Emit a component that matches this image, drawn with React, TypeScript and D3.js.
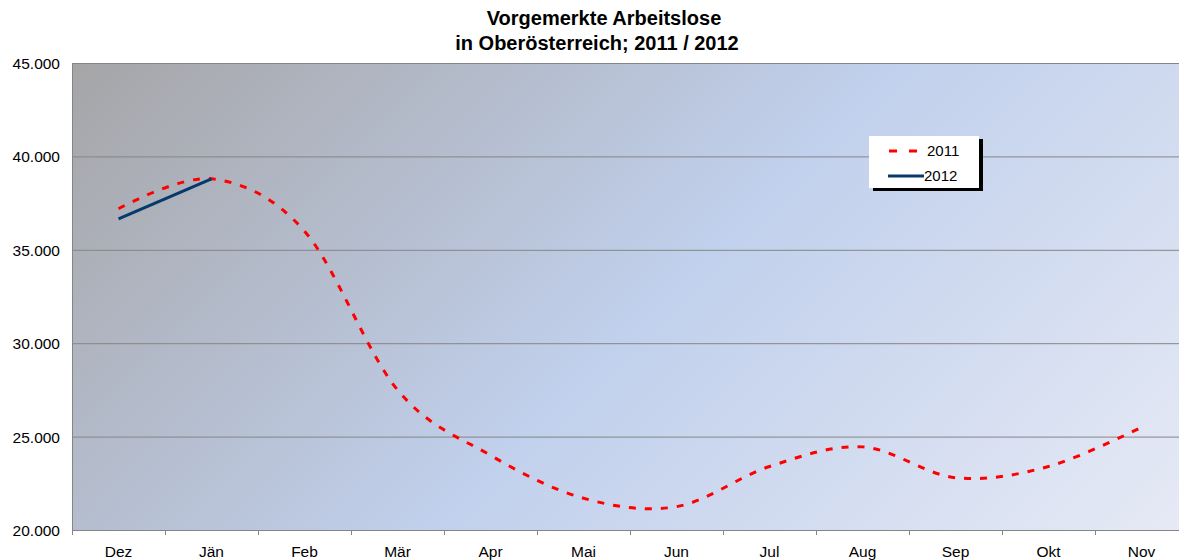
import { useEffect, useRef } from "react";
import * as d3 from "d3";

const months = ["Dez", "Jän", "Feb", "Mär", "Apr", "Mai", "Jun", "Jul", "Aug", "Sep", "Okt", "Nov"];
const values2011 = [37200, 38800, 36000, 27500, 24000, 21700, 21250, 23400, 24450, 22800, 23400, 25500];
const values2012 = [36650, 38800];
const yTicks = [20000, 25000, 30000, 35000, 40000, 45000];

const fmt = (v: number) => d3.format(",.3f")(v / 1000).replace(",", "");
const FONT = "Liberation Sans, Arial, sans-serif";

export default function App() {
  const ref = useRef<SVGSVGElement | null>(null);

  useEffect(() => {
    const width = 1179;
    const height = 560;
    const left = 72;
    const top = 63;
    const bottom = 530;
    const right = left + 93 * months.length;

    const svg = d3.select(ref.current);
    svg.selectAll("*").remove();

    const x = d3.scaleBand<string>().domain(months).range([left, right]);
    const y = d3.scaleLinear().domain([20000, 45000]).range([bottom, top]);

    // diagonal background gradient at 45 degrees
    const half = ((right - left) + (bottom - top)) / 2;
    const defs = svg.append("defs");
    const grad = defs.append("linearGradient")
      .attr("id", "bg")
      .attr("gradientUnits", "userSpaceOnUse")
      .attr("x1", left).attr("y1", top).attr("x2", left + half).attr("y2", top + half);
    grad.append("stop").attr("offset", "0%").attr("stop-color", "#a5a5a7");
    grad.append("stop").attr("offset", "52%").attr("stop-color", "#c1d0ec");
    grad.append("stop").attr("offset", "100%").attr("stop-color", "#e6eaf5");

    svg.append("rect")
      .attr("x", left).attr("y", top)
      .attr("width", right - left).attr("height", bottom - top)
      .attr("fill", "url(#bg)");

    // grid
    svg.append("g")
      .selectAll("line")
      .data(yTicks)
      .join("line")
      .attr("x1", left).attr("x2", right)
      .attr("y1", d => y(d) + 0.5).attr("y2", d => y(d) + 0.5)
      .attr("stroke", "#858585").attr("stroke-width", 1);

    svg.append("line")
      .attr("x1", left + 0.5).attr("x2", left + 0.5)
      .attr("y1", top).attr("y2", bottom)
      .attr("stroke", "#858585");

    // y labels
    svg.append("g")
      .selectAll("text")
      .data(yTicks)
      .join("text")
      .attr("x", left - 12)
      .attr("y", d => y(d) + 6)
      .attr("text-anchor", "end")
      .attr("font-size", 15.5)
      .attr("font-family", FONT)
      .text(d => fmt(d));

    // x ticks
    svg.append("g")
      .selectAll("line")
      .data(months)
      .join("line")
      .attr("x1", d => x(d)! + 0.5).attr("x2", d => x(d)! + 0.5)
      .attr("y1", bottom).attr("y2", bottom + 5)
      .attr("stroke", "#858585");

    svg.append("g")
      .selectAll("text")
      .data(months)
      .join("text")
      .attr("x", d => x(d)! + x.bandwidth() / 2)
      .attr("y", bottom + 27)
      .attr("text-anchor", "middle")
      .attr("font-size", 15.5)
      .attr("font-family", FONT)
      .text(d => d);

    const line = d3.line<number>()
      .x((_, i) => x(months[i])! + x.bandwidth() / 2)
      .y(d => y(d))
      .curve(d3.curveCardinal.tension(0));

    svg.append("path")
      .attr("d", line(values2011))
      .attr("fill", "none")
      .attr("stroke", "#ff0000")
      .attr("stroke-width", 3)
      .attr("stroke-dasharray", "7,9");

    svg.append("path")
      .attr("d", line(values2012))
      .attr("fill", "none")
      .attr("stroke", "#063a6e")
      .attr("stroke-width", 3);

    // title
    const title = svg.append("text")
      .attr("text-anchor", "middle")
      .attr("font-size", 20)
      .attr("font-weight", "bold")
      .attr("font-family", FONT);
    title.append("tspan").attr("x", 604).attr("y", 25).text("Vorgemerkte Arbeitslose");
    title.append("tspan").attr("x", 597).attr("y", 50).text("in Oberösterreich; 2011 / 2012");

    // legend
    const lg = svg.append("g").attr("transform", "translate(869,136)");
    lg.append("rect").attr("x", 4).attr("y", 3).attr("width", 110).attr("height", 52).attr("fill", "#000");
    lg.append("rect").attr("x", 0).attr("y", 0).attr("width", 110).attr("height", 52).attr("fill", "#fff");
    lg.append("line")
      .attr("x1", 20).attr("x2", 48).attr("y1", 15).attr("y2", 15)
      .attr("stroke", "#ff0000").attr("stroke-width", 3).attr("stroke-dasharray", "8,12");
    lg.append("line")
      .attr("x1", 19).attr("x2", 55).attr("y1", 40).attr("y2", 40)
      .attr("stroke", "#063a6e").attr("stroke-width", 3);
    const lt = lg.append("g")
      .attr("font-size", 15)
      .attr("font-family", FONT);
    lt.append("text").attr("x", 58).attr("y", 20).text("2011");
    lt.append("text").attr("x", 55).attr("y", 45).text("2012");

    svg.attr("width", width).attr("height", height);
  }, []);

  return <svg ref={ref} width={1179} height={560} style={{ position: "absolute", left: 0, top: 0 }} />;
}
